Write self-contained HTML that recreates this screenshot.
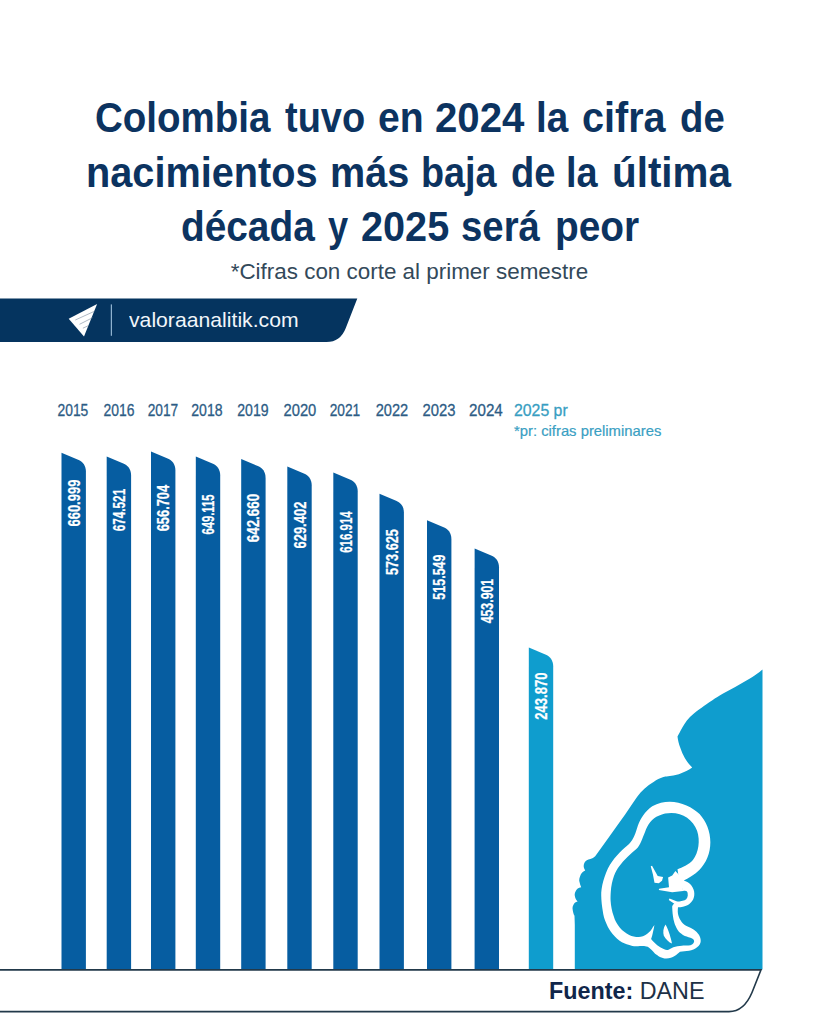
<!DOCTYPE html><html lang="es"><head>
<meta charset="utf-8">
<title>Colombia nacimientos 2024</title>
<style>
html,body{margin:0;padding:0;background:#fff;}
body{width:819px;height:1024px;position:relative;overflow:hidden;font-family:"Liberation Sans",sans-serif;}
#shapes{position:absolute;left:0;top:0;width:819px;height:1024px;}
.t{position:absolute;white-space:nowrap;line-height:1;}
.ttl{position:absolute;left:0;width:819px;text-align:center;white-space:nowrap;line-height:1;font-weight:bold;font-size:43px;color:#0c3360;}
.tl{position:absolute;left:0;width:819px;height:43px;white-space:nowrap;line-height:1;font-weight:bold;font-size:43px;color:#0c3360;}
.tl span{position:absolute;top:0;display:inline-block;transform-origin:left center;}
.ttl span,.sub span,.yr span,.bv span,.t span.s{display:inline-block;transform-origin:center center;}
.sub{position:absolute;left:0;width:819px;text-align:center;white-space:nowrap;line-height:1;font-size:21.5px;color:#33495a;}
.yr{position:absolute;top:401.5px;width:0;height:17px;line-height:17px;font-size:17px;color:#2d5c85;-webkit-text-stroke:0.3px #2d5c85;white-space:nowrap;display:flex;justify-content:center;}
.bv{position:absolute;width:0;height:0;display:flex;justify-content:center;align-items:center;white-space:nowrap;color:#fff;-webkit-text-stroke:0.25px #fff;font-weight:bold;font-size:16px;line-height:1;transform:rotate(-90deg);}
</style>
</head>
<body>
<svg id="shapes" width="819" height="1024" viewBox="0 0 819 1024">
<!-- banner -->
<path fill="#05345f" d="M0,298.6 H357.3 L345.8,328 Q340.4,342 326.5,342 H0 Z"></path>
<path fill="#ffffff" d="M68.7,318.7 L97.1,304 L84,336.4 Z"></path>
<g stroke="#5a6f88" stroke-width="0.8" fill="none" opacity="0.6">
<path d="M75.3,320 L94.8,311.1"></path><path d="M79.5,324.3 L93,317.5"></path><path d="M82.9,328.2 L88.7,325.5"></path>
</g>
<rect x="110.8" y="304.4" width="1.1" height="31.4" fill="#9fc0dc"></rect>
<!-- bars -->
<path fill="#065da1" d="M61.5,452.7 l16.6,7 c4.6,2 7.8,5.6 7.8,11.9 V969.5 H61.5 Z"></path>
<path fill="#065da1" d="M106.7,456.6 l16.6,7 c4.6,2 7.8,5.6 7.8,11.9 V969.5 H106.7 Z"></path>
<path fill="#065da1" d="M151.0,451.5 l16.6,7 c4.6,2 7.8,5.6 7.8,11.9 V969.5 H151.0 Z"></path>
<path fill="#065da1" d="M195.8,456.6 l16.6,7 c4.6,2 7.8,5.6 7.8,11.9 V969.5 H195.8 Z"></path>
<path fill="#065da1" d="M241.2,459.0 l16.6,7 c4.6,2 7.8,5.6 7.8,11.9 V969.5 H241.2 Z"></path>
<path fill="#065da1" d="M287.3,466.4 l16.6,7 c4.6,2 7.8,5.6 7.8,11.9 V969.5 H287.3 Z"></path>
<path fill="#065da1" d="M333.3,472.5 l16.6,7 c4.6,2 7.8,5.6 7.8,11.9 V969.5 H333.3 Z"></path>
<path fill="#065da1" d="M379.5,493.7 l16.6,7 c4.6,2 7.8,5.6 7.8,11.9 V969.5 H379.5 Z"></path>
<path fill="#065da1" d="M427.0,520.3 l16.6,7 c4.6,2 7.8,5.6 7.8,11.9 V969.5 H427.0 Z"></path>
<path fill="#065da1" d="M474.6,548.4 l16.6,7 c4.6,2 7.8,5.6 7.8,11.9 V969.5 H474.6 Z"></path>
<path fill="#0f9dce" d="M528.8,647.6 l16.6,7 c4.6,2 7.8,5.6 7.8,11.9 V969.5 H528.8 Z"></path>
<!-- silhouette -->
<path fill="#0f9dce" d="M762.5,669.4 C760.5,671 758.5,672.8 756.7,674.1 C754,676 751,678 747.3,680.1 L735.2,686.9 L723.1,693.6 C719,696 715.5,698.2 712.4,700.3 C708,703.2 704.5,705.6 701.6,707.7 C698.5,709.9 696,711.8 693.6,713.7 C691,715.9 688.8,718.2 686.9,720.4 C685,722.8 683.5,725.4 682.2,727.8 C680.3,731.4 678.6,734.4 677.5,736.6 C677.9,740.4 678.9,744 680.1,747.3 C681.4,751.2 683,754.8 684.8,758.1 C686.8,761.7 689.3,764.8 692.2,767.5 C690.5,768.9 688.8,770 686.9,770.8 C684.4,772.1 681.6,773.3 678.8,774.2 C675.2,775.1 671.6,775.7 668.1,776.2 C666,776.5 664.8,776.6 663.4,776.9 C659.8,778 656.6,779.6 653.9,781.7 C650.4,783.8 647.2,786.2 644.4,788.8 C641.7,791.3 639.3,793.9 637.2,796.7 L631.7,804.7 L625.3,814.2 L617.4,825.3 L609.4,836.4 L601.5,847.5 L595.2,856.3 C593.8,857.6 592.2,858.5 590.4,859 C587.6,859.4 585.6,860.6 584.6,862.6 C583.5,864.6 583.4,866.5 584.2,868.4 L585.2,870.6 C582.6,871.6 580.9,873.5 580.2,876.1 C579.2,878.6 579,880.5 579.4,881.5 C579.8,883.6 580.4,885.4 581.2,887.2 C578.4,887.8 576.6,889 575.8,890.9 C574.8,892.5 574.5,894.1 574.8,895.7 C575.2,898 576.1,899.9 577.6,901.5 C575.4,902.2 574,903.3 573.4,905 C572.6,906.3 572.4,907.6 572.6,908.9 C572.9,911.6 573.5,913.9 574.5,915.8 L574.8,925 V969.5 H762.5 Z"></path>
<g transform="translate(595,795) scale(0.16598)">
<path fill="#ffffff" d="M450,40 C520,40 590,75 630,115 C670,160 695,220 695,285 C695,350 670,410 630,450 C600,480 565,500 535,515 C565,525 590,545 597,580 C603,615 590,645 560,662 C540,672 520,676 500,676 C498,695 498,711 502,725 C506,740 513,752 522,765 C532,778 545,787 558,793 C572,799 585,805 596,812 C608,820 618,830 626,842 C633,853 637,866 637,880 C637,895 628,908 615,918 C590,940 545,942 512,945 C495,960 470,985 430,985 C400,985 380,968 362,956 C345,940 335,925 318,915 C300,908 290,909 270,910 C250,912 235,911 225,909 C200,903 180,896 162,887 C140,873 122,856 106,837 C90,817 78,797 69,775 C57,750 50,725 47,700 C42,670 38,640 37.5,606 C36,560 55,480 90,420 C125,365 170,325 205,295 C235,265 245,225 258,185 C275,140 300,100 345,68 C380,48 415,40 450,40 Z"></path>
<path fill="#0f9dce" d="M460,108 C530,108 592,150 615,215 C635,275 625,345 590,392 C565,420 525,437 497,447 L505,500 L530,578 C545,574 556,576 558,590 C562,610 555,628 540,634 C525,640 505,640 491,646 C478,652 468,660 465,672 C466,700 468,725 473,750 C477,765 480,777 485,788 C489,798 493,807 498,814 C506,826 517,836 530,843 C545,851 560,855 575,860 C585,863 592,867 595,873 C598,879 598,884 595,889 C591,897 584,902 575,905 C560,909 540,906 523,908 C505,910 487,912 472,918 C462,922 452,928 443,932 C435,935 426,934 417,930 C402,924 388,915 375,905 C362,895 349,882 338,868 C343,852 347,840 349,827 C353,812 356,797 358,782 C357,785 354,790 350,794 C340,812 328,828 313,837 C298,848 280,855 263,856 C243,856 224,851 206,843 C185,833 166,818 150,800 C133,780 120,757 113,731 C102,700 96,668 94,637 C93,620 94,600 95,584 C100,510 125,455 145,431 C175,390 215,355 249,326 C275,300 285,260 302,221 C315,180 345,140 384,125 C410,112 435,108 460,108 Z"></path>
</g>
<g transform="translate(640,855) scale(0.10737)" fill="#ffffff">
<path d="M100,105 L112,100 L165,195 L215,205 L205,240 L175,262 L135,258 L120,180 Z"></path>
<path d="M330,150 L400,225 L412,250 L395,300 L402,335 L300,347 L175,326 L178,314 L270,300 L262,210 L300,190 Z"></path>
<path d="M400,445 L385,478 L330,460 L268,420 L275,406 L340,430 Z"></path>
<path d="M238,648 C257,682 280,740 298,825 C272,815 238,785 222,752 C212,722 216,682 238,648 Z"></path>
</g>
</svg>

<div class="tl" style="top:95.9px"><span style="left: 95.1px; transform: scaleX(0.8955);">Colombia</span> <span style="left: 285px; transform: scaleX(0.8827);">tuvo</span> <span style="left: 377.79px; transform: scaleX(0.9102);">en</span> <span style="left: 435.17px; transform: scaleX(0.9341);">2024</span> <span style="left: 535.6px; transform: scaleX(0.8985);">la</span> <span style="left: 581.98px; transform: scaleX(0.9195);">cifra</span> <span style="left: 679.71px; transform: scaleX(0.8909);">de</span></div>
<div class="tl" style="top:150.5px"><span style="left: 86.45px; transform: scaleX(0.923);">nacimientos</span> <span style="left: 330.06px; transform: scaleX(0.9212);">más</span> <span style="left: 420.74px; transform: scaleX(0.8775);">baja</span> <span style="left: 511.02px; transform: scaleX(0.8847);">de</span> <span style="left: 566.26px; transform: scaleX(0.8808);">la</span> <span style="left: 612.22px; transform: scaleX(0.9394);">última</span></div>
<div class="tl" style="top:204.9px"><span style="left: 180.7px; transform: scaleX(0.9024);">década</span> <span style="left: 328.2px; transform: scaleX(0.8417);">y</span> <span style="left: 360.88px; transform: scaleX(0.9217);">2025</span> <span style="left: 461.41px; transform: scaleX(0.892);">será</span> <span style="left: 554.69px; transform: scaleX(0.9033);">peor</span></div>
<div class="sub" style="top:261.9px"><span style="transform: scaleX(1.0425);">*Cifras con corte al primer semestre</span></div>

<div class="t" style="left:129px;top:309.2px;font-size:21px;color:#f2f6fa;"><span class="s" style="transform-origin: left center; transform: scaleX(1.0091);">valoraanalitik.com</span></div>

<div class="yr" style="left:73.2px"><span style="transform: scaleX(0.8142);">2015</span></div>
<div class="yr" style="left:118.7px"><span style="transform: scaleX(0.8195);">2016</span></div>
<div class="yr" style="left:162.9px"><span style="transform: scaleX(0.8063);">2017</span></div>
<div class="yr" style="left:207.2px"><span style="transform: scaleX(0.8274);">2018</span></div>
<div class="yr" style="left:253.0px"><span style="transform: scaleX(0.8274);">2019</span></div>
<div class="yr" style="left:299.6px"><span style="transform: scaleX(0.8671);">2020</span></div>
<div class="yr" style="left:345.4px"><span style="transform: scaleX(0.8063);">2021</span></div>
<div class="yr" style="left:391.6px"><span style="transform: scaleX(0.8591);">2022</span></div>
<div class="yr" style="left:439.0px"><span style="transform: scaleX(0.8724);">2023</span></div>
<div class="yr" style="left:486.1px"><span style="transform: scaleX(0.8909);">2024</span></div>
<div class="t" style="left:513.9px;top:401.5px;font-size:17px;line-height:17px;color:#389ec2;-webkit-text-stroke:0.3px #389ec2;"><span class="s" style="transform-origin: left center; transform: scaleX(0.9311);">2025 pr</span></div>
<div class="t" style="left:513.9px;top:423.2px;font-size:14.5px;line-height:16px;color:#3aa0c3;-webkit-text-stroke:0.2px #3aa0c3;"><span class="s" style="transform-origin: left center; transform: scaleX(1.0211);">*pr: cifras preliminares</span></div>

<div class="bv" style="left:74.7px;top:502.5px"><span style="transform: scaleX(0.8125);">660.999</span></div>
<div class="bv" style="left:119.9px;top:510.0px"><span style="transform: scaleX(0.7347);">674.521</span></div>
<div class="bv" style="left:164.2px;top:507.6px"><span style="transform: scaleX(0.8022);">656.704</span></div>
<div class="bv" style="left:209.0px;top:515.1px"><span style="transform: scaleX(0.7058);">649.115</span></div>
<div class="bv" style="left:254.4px;top:517.9px"><span style="transform: scaleX(0.835);">642.660</span></div>
<div class="bv" style="left:300.5px;top:525.1px"><span style="transform: scaleX(0.8108);">629.402</span></div>
<div class="bv" style="left:346.5px;top:532.2px"><span style="transform: scaleX(0.7175);">616.914</span></div>
<div class="bv" style="left:392.7px;top:551.5px"><span style="transform: scaleX(0.7935);">573.625</span></div>
<div class="bv" style="left:440.2px;top:576.5px"><span style="transform: scaleX(0.7797);">515.549</span></div>
<div class="bv" style="left:487.8px;top:601.4px"><span style="transform: scaleX(0.7693);">453.901</span></div>
<div class="bv" style="left:542.0px;top:695.8px"><span style="transform: scaleX(0.8143);">243.870</span></div>

<!-- footer -->
<svg style="position:absolute;left:0;top:960px" width="819" height="64" viewBox="0 960 819 64">
<path fill="#ffffff" stroke="#22394a" stroke-width="1.6" d="M-5,969.9 H761 L752,992.5 Q744,1011.6 729,1011.6 H-5 Z"></path>
</svg>
<div class="t" style="left:548.6px;top:979.4px;font-size:24.5px;color:#1d3146;"><span class="s" style="transform-origin: left center; transform: scaleX(0.9519);"><b style="color:#10264a">Fuente:</b> DANE</span></div>


</body></html>
